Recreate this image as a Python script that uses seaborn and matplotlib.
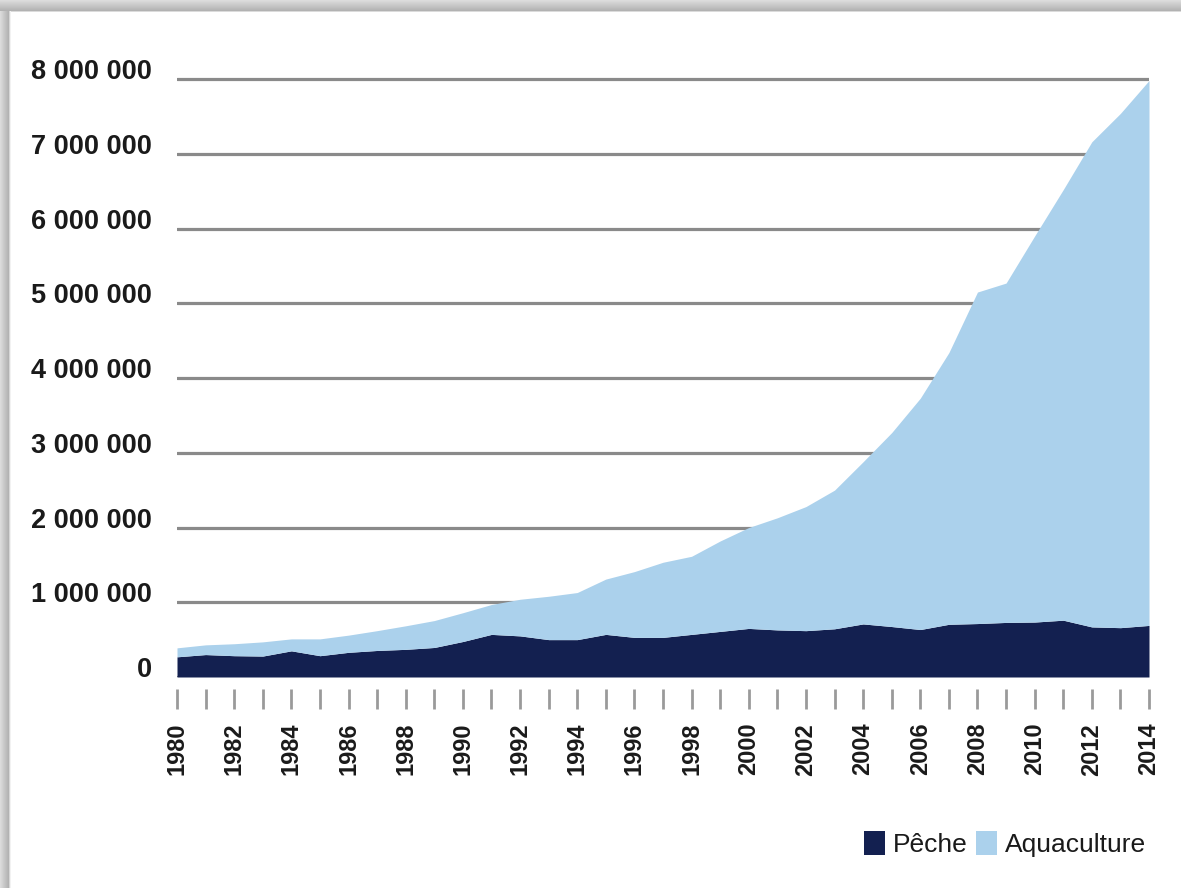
import numpy as np
import pandas as pd
import matplotlib
matplotlib.use("Agg")
import matplotlib.pyplot as plt
from matplotlib.patches import Patch
from matplotlib.ticker import FuncFormatter, MultipleLocator
import seaborn as sns

# Production (tonnes) by year
years = list(range(1980, 2015))
peche = [270000, 300000, 285000, 280000, 350000, 285000, 330000, 355000, 370000, 395000,
         475000, 570000, 550000, 500000, 500000, 570000, 530000, 530000, 570000, 610000,
         650000, 630000, 620000, 645000, 710000, 675000, 635000, 705000, 715000, 730000,
         735000, 760000, 670000, 660000, 690000]
aquaculture = [120000, 130000, 160000, 190000, 160000, 225000, 230000, 265000, 315000, 360000,
               385000, 400000, 490000, 580000, 630000, 740000, 880000, 1005000, 1045000, 1210000,
               1350000, 1500000, 1660000, 1855000, 2170000, 2595000, 3095000, 3635000, 4435000, 4540000,
               5165000, 5760000, 6490000, 6880000, 7290000]
series_labels = ["Pêche", "Aquaculture"]
y_ticks = [0, 1000000, 2000000, 3000000, 4000000, 5000000, 6000000, 7000000, 8000000]

DARK = "#132050"
LIGHT = "#abd1ec"
GRID = "#8a8a8a"
TICK = "#9a9a9a"
TEXT = "#1a1a1a"

sns.set_theme(style="white")
plt.rcParams["font.family"] = ["Liberation Sans", "DejaVu Sans"]

df = pd.DataFrame({"annee": years, "Pêche": peche, "Aquaculture": aquaculture})

W, H, DPI = 1181, 888, 100
fig = plt.figure(figsize=(W / DPI, H / DPI), dpi=DPI, facecolor="white")

# Shaded card edge along the top and left sides
bg = np.ones((H, W, 3))
top = np.linspace(0.88, 0.70, 12)
for i, v in enumerate(top):
    bg[i, :, :] = v
bg[12, :, :] = 0.86
left = np.linspace(0.86, 0.70, 9)
for j, v in enumerate(left):
    bg[12:, j, :] = np.minimum(bg[12:, j, :], v)
bg[12:, 9, :] = 0.84
bg[12:, 10, :] = 0.95
bg_ax = fig.add_axes([0, 0, 1, 1], zorder=-10)
bg_ax.imshow(bg, aspect="auto", interpolation="nearest")
bg_ax.axis("off")

# Plot area
ax_left, ax_right = 177, 1149
ax_bottom_px, ax_top_px = 677, 67.8
ax = fig.add_axes([ax_left / W, (H - ax_bottom_px) / H,
                   (ax_right - ax_left) / W, (ax_bottom_px - ax_top_px) / H], zorder=1)
ax.set_facecolor("none")

ax.stackplot(df["annee"], df["Pêche"], df["Aquaculture"],
             colors=[DARK, LIGHT], labels=series_labels, linewidth=0, zorder=2)

ax.set_xlim(1980, 2014)
ax.set_ylim(0, 8150000)
ax.set_yticks(y_ticks)
ax.yaxis.set_major_formatter(FuncFormatter(lambda v, p: f"{int(v):,}".replace(",", " ")))
ax.yaxis.grid(True, color=GRID, linewidth=2.3)
ax.xaxis.grid(False)
ax.set_axisbelow(True)

ax.xaxis.set_major_locator(MultipleLocator(2))
ax.xaxis.set_minor_locator(MultipleLocator(1))
ax.xaxis.set_major_formatter(FuncFormatter(lambda v, p: f"{int(round(v))}"))

sns.despine(ax=ax, left=True, bottom=True)
ax.spines["bottom"].set_position(("outward", 8.6))

ax.tick_params(axis="x", which="both", direction="out", length=14.4, width=2.0,
               color=TICK, bottom=True, pad=10)
ax.tick_params(axis="y", length=0, pad=18)

for lbl in ax.get_xticklabels():
    lbl.set_rotation(90)
    lbl.set_fontweight("bold")
    lbl.set_fontsize(17)
    lbl.set_color(TEXT)
    lbl.set_va("top")
    lbl.set_ha("center")

for lbl in ax.get_yticklabels():
    lbl.set_fontsize(19.5)
    lbl.set_fontweight("bold")
    lbl.set_color(TEXT)
    lbl.set_va("baseline")

ax.set_xlabel("")
ax.set_ylabel("")

handles = [Patch(facecolor=DARK, edgecolor="none"), Patch(facecolor=LIGHT, edgecolor="none")]
fig.legend(handles, series_labels, loc="center right",
           bbox_to_anchor=(1146 / W, 1 - 844 / H), ncol=2, frameon=False,
           prop={"size": 19}, handlelength=0.8, handleheight=1.0,
           handletextpad=0.3, columnspacing=0.3, borderaxespad=0, borderpad=0,
           labelcolor=TEXT)

fig.savefig("out.png", dpi=DPI, facecolor="white")
